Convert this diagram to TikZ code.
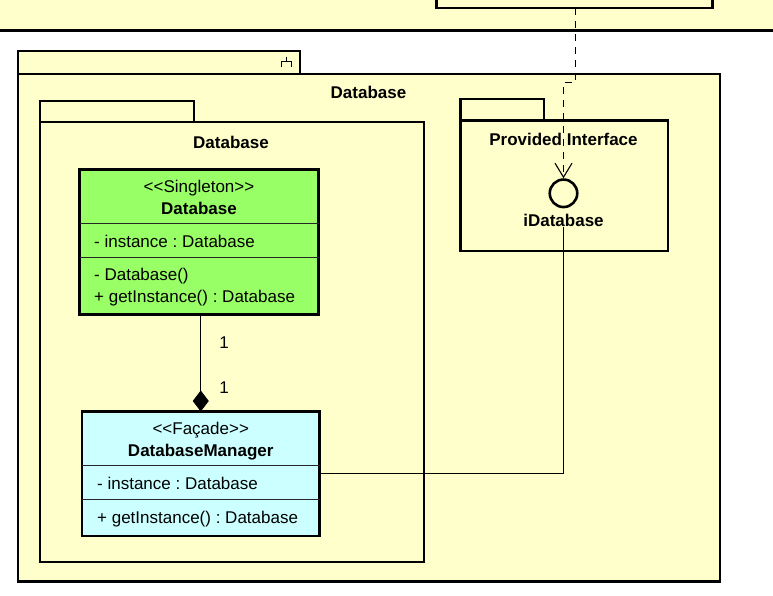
\documentclass[tikz,border=0pt]{standalone}
\usepackage{fontspec}
\setmainfont{Liberation Sans}[Ligatures=TeXOff]
\frenchspacing
\usetikzlibrary{arrows.meta,calc}

\definecolor{pkgfill}{HTML}{FFFFCC}
\definecolor{singletonfill}{HTML}{99FF66}
\definecolor{facadefill}{HTML}{CCFFFF}

\newcommand\umltext{\fontsize{17}{21}\selectfont}

\tikzset{
  box/.style={draw=black, line width=2.6pt, inner sep=0pt, outer sep=0pt, anchor=north west},
  pkgbox/.style={box, fill=pkgfill},
  singletonbox/.style={box, fill=singletonfill},
  facadebox/.style={box, fill=facadefill},
  txt/.style={font=\umltext, inner sep=0pt, anchor=base},
  btxt/.style={txt, font=\umltext\bfseries},
  ltxt/.style={txt, anchor=base west},
  sepline/.style={draw=black!85, line width=1pt},
  conn/.style={draw=black, line width=1.1pt},
  depline/.style={conn, dash pattern=on 7pt off 6pt, -{Straight Barb[length=14pt,width=17pt,line width=1.1pt]}},
  compline/.style={conn, -{Diamond[length=21pt,width=16pt]}},
  lollipop/.style={circle, draw=black, line width=2.6pt, fill=pkgfill, minimum size=27.5pt, inner sep=0pt, outer sep=1.3pt},
}

\begin{document}
\begin{tikzpicture}[x=1pt, y=-1pt]
  \useasboundingbox (0,0) rectangle (773,596);
  \clip (0,0) rectangle (773,596);

  % enclosing package above, and the element it holds
  \node[pkgbox, anchor=south, minimum width=820pt, minimum height=80pt] (envpkg) at (386.5,30.5) {};
  \node[pkgbox, anchor=south, minimum width=276pt, minimum height=40pt] (topbox) at (574.5,8) {};

  % outer package "Database"
  \node[pkgbox, minimum width=282pt, minimum height=23pt] (outertab) at (18,51) {};
  \node[pkgbox, minimum width=702pt, minimum height=507.5pt] (outerpkg) at (18,74) {};
  \draw[line width=1pt] (286,57) -- (286,62) (281,67) -- (281,62) -- (291,62) -- (291,67);
  \node[btxt] (outertitle) at (368.5,98.3) {Database};

  % inner package "Database"
  \node[pkgbox, minimum width=154pt, minimum height=21pt] (innertab) at (40,101) {};
  \node[pkgbox, minimum width=384pt, minimum height=440pt] (innerpkg) at (40,122) {};
  \node[btxt] (innertitle) at (231,148.3) {Database};

  % package "Provided Interface"
  \node[pkgbox, minimum width=83.5pt, minimum height=21.5pt] (ifacetab) at (460.5,99) {};
  \node[pkgbox, minimum width=207.5pt, minimum height=130.5pt] (ifacepkg) at (460.5,120.5) {};
  \node[btxt] (ifacetitle) at (563.5,145.7) {Provided Interface};
  \node[lollipop] (lolli) at (563.5,193.3) {};
  \node[btxt] (idb) at (563.5,226.7) {iDatabase};

  % class Database (singleton)
  \node[singletonbox, minimum width=239pt, minimum height=145pt] (single) at (79.5,169.5) {};
  \node[txt] (singlest) at (199,192.3) {<<Singleton>>};
  \node[btxt] (singlename) at (199,214.3) {Database};
  \draw[sepline] (79.5,223.5) -- (318.5,223.5);
  \node[ltxt] (singleattr) at (94,247.3) {- instance : Database};
  \draw[sepline] (79.5,257) -- (318.5,257);
  \node[ltxt] (singleop1) at (94,280.7) {- Database()};
  \node[ltxt] (singleop2) at (94,302.7) {+ getInstance() : Database};

  % class DatabaseManager (facade)
  \node[facadebox, minimum width=237.5pt, minimum height=124.5pt] (facade) at (82,411.5) {};
  \node[txt] (facadest) at (200.75,434) {<<Façade>>};
  \node[btxt] (facadename) at (200.75,456.7) {DatabaseManager};
  \draw[sepline] (82,465) -- (319.5,465);
  \node[ltxt] (facadeattr) at (97,489.3) {- instance : Database};
  \draw[sepline] (82,499) -- (319.5,499);
  \node[ltxt] (facadeop) at (97,523.3) {+ getInstance() : Database};

  % composition between the two classes
  \draw[compline] (facade.north |- single.south) -- (facade.north);
  \node[txt] (multtop) at (224,348.5) {1};
  \node[txt] (multbot) at (224,393) {1};

  % realisation link from the facade to the provided interface
  \draw[conn] (idb.south) |- (facade.east);

  % dependency from the element above onto the interface
  \coordinate (depbend) at (563.5,82.3);
  \draw[depline] ([xshift=1pt]topbox.south) |- (depbend) -- (lolli.north);
\end{tikzpicture}
\end{document}
